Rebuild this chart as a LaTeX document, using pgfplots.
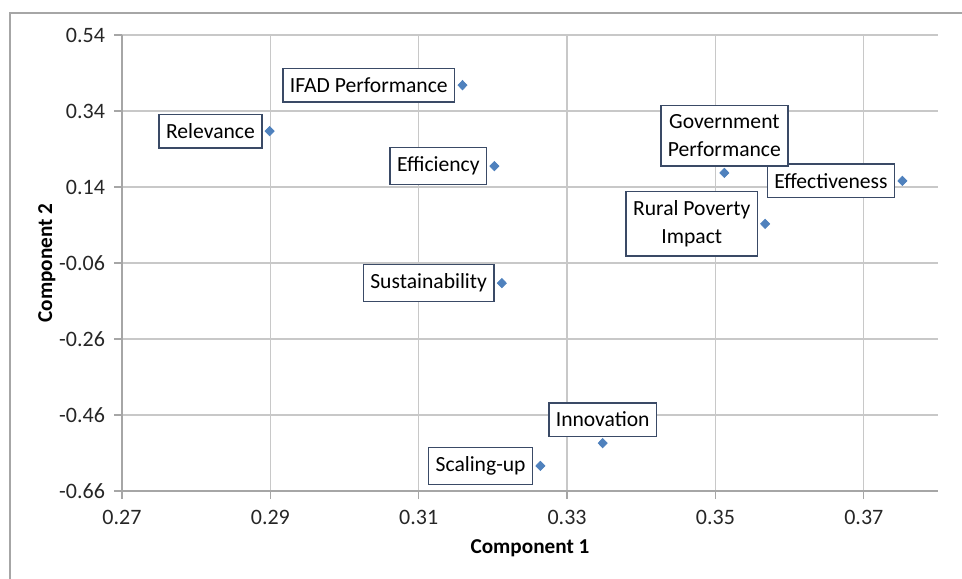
\documentclass[border=0pt]{standalone}
\usepackage{pgfplots}
\pgfplotsset{compat=1.18}
\usepackage{fontspec}
\setmainfont{Carlito}
\definecolor{mk}{HTML}{4F81BD}
\definecolor{lb}{HTML}{3A4A66}
\definecolor{gridc}{HTML}{C8C8C8}
\definecolor{axc}{HTML}{A6A6A6}
\begin{document}
\begin{tikzpicture}[x=1pt,y=1pt]
\clip (-61,-43.5) rectangle (420,245.5);
\draw[axc, line width=0.9pt] (-56,-60) rectangle (440,239);
\begin{axis}[at={(0,0)}, anchor=south west, scale only axis,
  width=408pt, height=228pt,
  xmin=0.27, xmax=0.38, ymin=-0.66, ymax=0.54,
  xtick={0.27,0.29,0.31,0.33,0.35,0.37},
  ytick={-0.66,-0.46,-0.26,-0.06,0.14,0.34,0.54},
  xticklabels={0.27,0.29,0.31,0.33,0.35,0.37},
  yticklabels={-0.66,-0.46,-0.26,-0.06,0.14,0.34,0.54},
  grid=major, major grid style={gridc, line width=0.6pt},
  axis x line*=bottom, axis y line*=left,
  axis line style={axc, line width=0.7pt},
  tick style={axc, line width=0.6pt}, tick align=outside, major tick length=4pt,
  tick label style={font=\fontsize{11}{13}\selectfont, text=black!85},
  xticklabel style={yshift=-2pt},
  yticklabel style={xshift=-1pt},
  xlabel={\textbf{Component 1}}, ylabel={\textbf{Component 2}},
  label style={font=\fontsize{10.6}{12}\selectfont},
  xlabel style={at={(axis description cs:0.5,-0.125)}, anchor=center},
  ylabel style={at={(axis description cs:-0.092,0.5)}, anchor=center},
]
\addplot[only marks, mark=diamond*, mark size=2.3pt, mark options={xscale=1.3}, color=mk,
  point meta=explicit symbolic, nodes near coords,
  nodes near coords style={anchor=east, xshift=-3.5pt, draw=lb, fill=white,
    text=black, font=\fontsize{10.8}{14}\selectfont, inner xsep=3.5pt, inner ysep=4.6pt,
    align=center, line width=0.8pt}]
coordinates {
(0.3159,0.408) [IFAD Performance]
(0.2899,0.287) [Relevance]
(0.3202,0.195) [Efficiency]
(0.3752,0.156) [Effectiveness]
(0.3567,0.043) [{Rural Poverty\\Impact}]
(0.3212,-0.113) [Sustainability]
(0.3264,-0.594) [Scaling-up]
};
\addplot[only marks, mark=diamond*, mark size=2.3pt, mark options={xscale=1.3}, color=mk,
  point meta=explicit symbolic, nodes near coords,
  nodes near coords style={anchor=south, yshift=3pt, draw=lb, fill=white,
    text=black, font=\fontsize{10.8}{14}\selectfont, inner xsep=3.5pt, inner ysep=4.6pt,
    align=center, line width=0.8pt}]
coordinates {
(0.3512,0.177) [{Government\\Performance}]
(0.3348,-0.534) [Innovation]
};
\end{axis}
\end{tikzpicture}
\end{document}
